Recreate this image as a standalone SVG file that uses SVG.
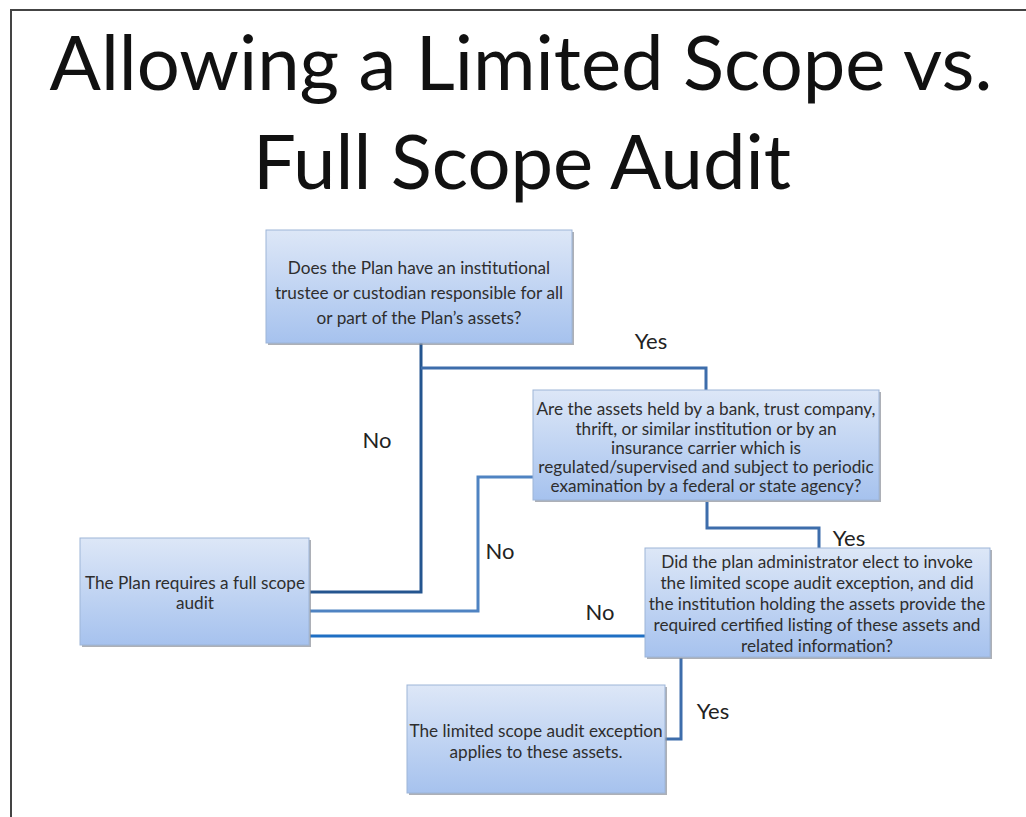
<svg xmlns="http://www.w3.org/2000/svg" width="1026" height="817" viewBox="0 0 1026 817">
<style>
.title{font-family:Lato,"Liberation Sans",sans-serif;font-size:76px;fill:#111;text-anchor:middle}
.bt{font-family:Lato,"Liberation Sans",sans-serif;font-size:17.2px;fill:#2e2e2e;text-anchor:middle}
.lbl{font-family:Lato,"Liberation Sans",sans-serif;font-size:22px;fill:#222;text-anchor:middle}
.box{fill:url(#g);stroke:#9db5d8;stroke-width:1}
.sh{fill:#8a8f99;opacity:0.7}
.c{fill:none;stroke-width:3}
</style>
<defs>
<linearGradient id="g" x1="0" y1="0" x2="0" y2="1">
<stop offset="0" stop-color="#dde7f7"/>
<stop offset="1" stop-color="#a6c2ee"/>
</linearGradient>
</defs>
<rect width="1026" height="817" fill="#fff"/>
<path d="M11 817 V10 H1026" fill="none" stroke="#444" stroke-width="2"/>
<text class="title" x="521" y="90">Allowing a Limited Scope vs.</text>
<text class="title" x="522" y="189">Full Scope Audit</text>
<g id="connectors">
<path class="c" d="M421 343 V592 H310" stroke="#24558f" stroke-width="3.5"/>
<path class="c" d="M421 368 H706 V390" stroke="#3d6dab"/>
<path class="c" d="M533 477 H478 V611 H310" stroke="#4f83c2"/>
<path class="c" d="M707 502 V528 H819 V549" stroke="#3d6dab"/>
<path class="c" d="M645 636 H310" stroke="#1f6fc3" stroke-width="4"/>
<path class="c" d="M681 658 V739 H665" stroke="#3d6dab"/>
</g>
<g id="n1">
<rect class="sh" x="268" y="232" width="306" height="113"/>
<rect class="box" x="266" y="230" width="306" height="113"/>
<text class="bt" x="419" y="274">Does the Plan have an institutional</text>
<text class="bt" x="419" y="299">trustee or custodian responsible for all</text>
<text class="bt" x="419" y="324">or part of the Plan’s assets?</text>
</g>
<g id="n2">
<rect class="sh" x="535" y="392" width="346" height="110"/>
<rect class="box" x="533" y="390" width="346" height="110"/>
<text class="bt" x="706" y="415">Are the assets held by a bank, trust company,</text>
<text class="bt" x="706" y="435">thrift, or similar institution or by an</text>
<text class="bt" x="706" y="454">insurance carrier which is</text>
<text class="bt" x="706" y="473">regulated/supervised and subject to periodic</text>
<text class="bt" x="706" y="492">examination by a federal or state agency?</text>
</g>
<g id="n3">
<rect class="sh" x="82" y="540" width="229" height="107"/>
<rect class="box" x="80" y="538" width="229" height="107"/>
<text class="bt" x="195" y="589">The Plan requires a full scope</text>
<text class="bt" x="195" y="609">audit</text>
</g>
<g id="n4">
<rect class="sh" x="647" y="550" width="345" height="109"/>
<rect class="box" x="645" y="548" width="345" height="109"/>
<text class="bt" x="817" y="568">Did the plan administrator elect to invoke</text>
<text class="bt" x="817" y="589">the limited scope audit exception, and did</text>
<text class="bt" x="817" y="610">the institution holding the assets provide the</text>
<text class="bt" x="817" y="631">required certified listing of these assets and</text>
<text class="bt" x="817" y="652">related information?</text>
</g>
<g id="n5">
<rect class="sh" x="409" y="687" width="258" height="108"/>
<rect class="box" x="407" y="685" width="258" height="108"/>
<text class="bt" x="536" y="737">The limited scope audit exception</text>
<text class="bt" x="536" y="758">applies to these assets.</text>
</g>
<g id="labels">
<text class="lbl" x="651" y="349">Yes</text>
<text class="lbl" x="377" y="448">No</text>
<text class="lbl" x="500" y="559">No</text>
<text class="lbl" x="849" y="546">Yes</text>
<text class="lbl" x="600" y="620">No</text>
<text class="lbl" x="713" y="719">Yes</text>
</g>
</svg>
